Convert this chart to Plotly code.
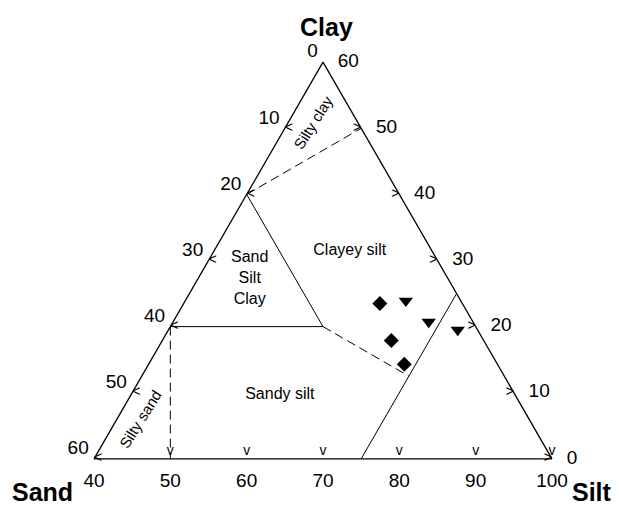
import plotly.graph_objects as go

# ---- Sample data (ternary %: clay + sand + silt = 100) ----
diamond_clay = [23.5, 17.9, 14.3]
diamond_sand = [10.8, 12.1, 12.2]
diamond_silt = [65.7, 70.0, 73.5]

triangle_clay = [23.9, 20.7, 19.5]
triangle_sand = [7.2, 5.8, 2.6]
triangle_silt = [68.9, 73.5, 77.9]

# ---- Class boundaries (each segment: start/end in clay, sand, silt) ----
solid_clay = [[40, 20], [20, 20], [25, 0]]
solid_sand = [[20, 20], [40, 20], [0, 25]]
solid_silt = [[40, 60], [40, 60], [75, 75]]

dashed_clay = [[40, 50], [20, 12.5], [20, 0]]
dashed_sand = [[20, 0], [20, 12.5], [40, 50]]
dashed_silt = [[40, 50], [60, 75], [40, 50]]

# ---- Class labels ----
class_labels = ["Clayey silt", "Sand<br>Silt<br>Clay", "Sandy silt"]
class_clay = [31.4, 27.2, 9.7]
class_sand = [10.8, 26.0, 30.8]
class_silt = [57.8, 46.8, 59.5]

# ---- Tick labels ----
sand_ticks = [0, 10, 20, 30, 40, 50, 60]      # left edge
clay_ticks = [0, 10, 20, 30, 40, 50, 60]      # right edge
silt_ticks = [40, 50, 60, 70, 80, 90, 100]    # bottom edge

FONT = "Liberation Sans, Arial, sans-serif"
TICKFONT = dict(family=FONT, size=19, color="black")
CHEVFONT = dict(family=FONT, size=14, color="black")
CLEAR = "rgba(0,0,0,0)"

fig = go.Figure()

for c, s, si in zip(solid_clay, solid_sand, solid_silt):
    fig.add_trace(go.Scatterternary(a=c, b=s, c=si, mode="lines",
                                    line=dict(color="black", width=1),
                                    hoverinfo="skip", showlegend=False))
for c, s, si in zip(dashed_clay, dashed_sand, dashed_silt):
    fig.add_trace(go.Scatterternary(a=c, b=s, c=si, mode="lines",
                                    line=dict(color="black", width=1, dash="9px,5px"),
                                    hoverinfo="skip", showlegend=False))

# chevron tick marks (tip on the edge, opening into the triangle)
lt = [s for s in sand_ticks if s > 0]
fig.add_trace(go.Scatterternary(a=[60 - s for s in lt], b=lt, c=[40] * len(lt),
                                mode="text", text=["<"] * len(lt), textposition="middle right",
                                textfont=CHEVFONT, cliponaxis=False,
                                hoverinfo="skip", showlegend=False))
rt = [c for c in clay_ticks if c < 60]
fig.add_trace(go.Scatterternary(a=rt, b=[0] * len(rt), c=[100 - c for c in rt],
                                mode="text", text=[">"] * len(rt), textposition="middle left",
                                textfont=CHEVFONT, cliponaxis=False,
                                hoverinfo="skip", showlegend=False))
bt = [v for v in silt_ticks if v > 40]
fig.add_trace(go.Scatterternary(a=[0] * len(bt), b=[100 - v for v in bt], c=bt,
                                mode="text", text=["v"] * len(bt), textposition="top center",
                                textfont=CHEVFONT, cliponaxis=False,
                                hoverinfo="skip", showlegend=False))

# tick labels placed at the tick positions of each edge
fig.add_trace(go.Scatterternary(a=[60 - s for s in sand_ticks], b=sand_ticks, c=[40] * len(sand_ticks),
                                mode="text", text=[f"{s}\u00a0" for s in sand_ticks],
                                textposition="top left", textfont=TICKFONT, cliponaxis=False,
                                hoverinfo="skip", showlegend=False))
fig.add_trace(go.Scatterternary(a=clay_ticks, b=[0] * len(clay_ticks), c=[100 - c for c in clay_ticks],
                                mode="markers+text", text=[str(c) for c in clay_ticks],
                                marker=dict(size=22, color=CLEAR),
                                textposition="middle right", textfont=TICKFONT, cliponaxis=False,
                                hoverinfo="skip", showlegend=False))
fig.add_trace(go.Scatterternary(a=[0] * len(silt_ticks), b=[100 - v for v in silt_ticks], c=silt_ticks,
                                mode="markers+text", text=[str(v) for v in silt_ticks],
                                marker=dict(size=20, color=CLEAR),
                                textposition="bottom center", textfont=TICKFONT, cliponaxis=False,
                                hoverinfo="skip", showlegend=False))

fig.add_trace(go.Scatterternary(a=class_clay, b=class_sand, c=class_silt, mode="text",
                                text=class_labels, textposition="middle center",
                                textfont=dict(family=FONT, size=16, color="black"),
                                hoverinfo="skip", showlegend=False))

fig.add_trace(go.Scatterternary(a=diamond_clay, b=diamond_sand, c=diamond_silt, mode="markers",
                                marker=dict(symbol="diamond", size=11.5, color="black"),
                                showlegend=False))
fig.add_trace(go.Scatterternary(a=triangle_clay, b=triangle_sand, c=triangle_silt, mode="markers",
                                marker=dict(symbol="triangle-down", size=12.5, color="black"),
                                showlegend=False))

axis_common = dict(showgrid=False, ticks="", showticklabels=False,
                   linecolor="black", linewidth=1.3, title=dict(text=""))

fig.update_layout(
    width=611, height=498,
    margin=dict(l=86, r=67, t=53, b=46),
    paper_bgcolor="white",
    font=dict(family=FONT, color="black"),
    ternary=dict(
        sum=100,
        bgcolor="white",
        aaxis=dict(min=0, **axis_common),
        baxis=dict(min=0, **axis_common),
        caxis=dict(min=40, **axis_common),
    ),
    annotations=[
        dict(text="<b>Clay</b>", xref="paper", yref="paper", x=0.5066, y=1.085,
             xanchor="center", yanchor="middle", showarrow=False,
             font=dict(family=FONT, size=25)),
        dict(text="<b>Sand</b>", xref="paper", yref="paper", x=-0.1135, y=-0.080,
             xanchor="center", yanchor="middle", showarrow=False,
             font=dict(family=FONT, size=25)),
        dict(text="<b>Silt</b>", xref="paper", yref="paper", x=1.087, y=-0.080,
             xanchor="center", yanchor="middle", showarrow=False,
             font=dict(family=FONT, size=25)),
        dict(text="Silty clay", xref="paper", yref="paper", x=0.478, y=0.847,
             xanchor="center", yanchor="middle", showarrow=False, textangle=-58,
             font=dict(family=FONT, size=15)),
        dict(text="Silty sand", xref="paper", yref="paper", x=0.1026, y=0.1028,
             xanchor="center", yanchor="middle", showarrow=False, textangle=-58,
             font=dict(family=FONT, size=15)),
    ],
)

fig.write_html("out.html")
